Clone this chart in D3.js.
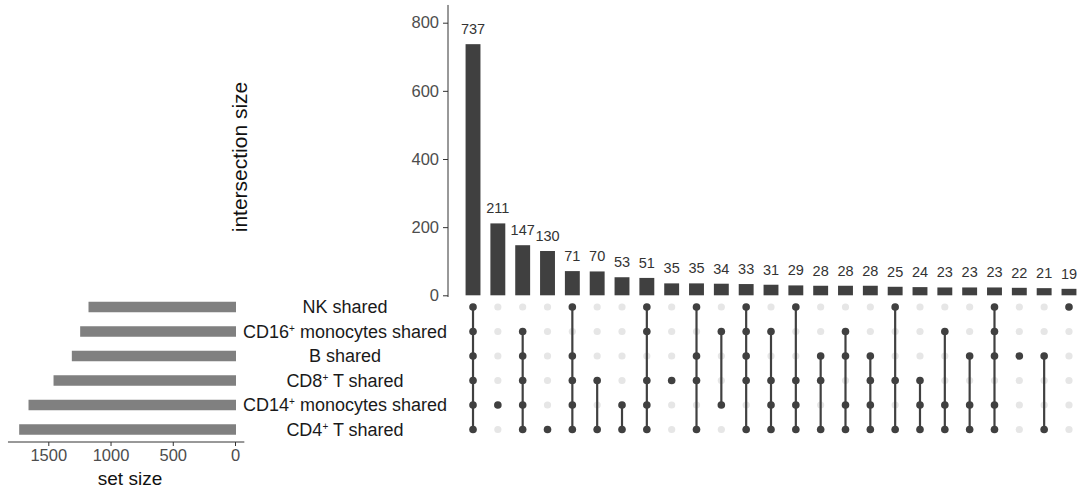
<!DOCTYPE html>
<html>
<head>
<meta charset="utf-8">
<script src="https://cdn.jsdelivr.net/npm/d3@7"></script>
<style>
  html, body { margin: 0; padding: 0; background: #fff; }
  svg { display: block; font-family: "Liberation Sans", Arial, Helvetica, sans-serif; }
</style>
</head>
<body>
<svg id="chart" width="1087" height="490"></svg>
<script>
// ---- data ----
const setNames = ["NK shared", "CD16+ monocytes shared", "B shared", "CD8+ T shared", "CD14+ monocytes shared", "CD4+ T shared"];
const setSizes = [1177, 1244, 1311, 1458, 1659, 1734];
const intersectionSizes = [737, 211, 147, 130, 71, 70, 53, 51, 35, 35, 34, 33, 31, 29, 28, 28, 28, 25, 24, 23, 23, 23, 22, 21, 19];
// membership: indices into setNames (0 = NK ... 5 = CD4+ T)
const memberships = [
  [0,1,2,3,4,5], [4], [1,2,3,4,5], [5], [0,2,3,4,5], [3,5], [4,5], [0,1,3,4,5],
  [3], [0,2,3,5], [1,4], [0,1,2,3,5], [1,3,4,5], [0,3,4,5], [2,3,5], [1,2,4,5],
  [2,3,4,5], [0,3,5], [3,4,5], [1,4,5], [2,4,5], [0,1,2,4,5], [2], [2,5], [0]
];
const topTicks = [0, 200, 400, 600, 800];
const setTicks = [0, 500, 1000, 1500];

// ---- styles ----
const dark = "#404040";
const setBarColor = "#808080";
const lightDot = "#e6e6e6";

const svg = d3.select("#chart");
const cols = intersectionSizes.map((d, i) => i);

const x = d3.scaleBand().domain(cols).range([460.6, 1081.4]).paddingInner(0.4).paddingOuter(0.2);
const yRow = d3.scalePoint().domain(setNames).range([307, 429.5]);
const yTop = d3.scaleLinear().domain([0, 800]).range([295.3, 22.7]);
const xSet = d3.scaleLinear().domain([0, 1500]).range([235, 48.3]);

// ---- top bar chart ----
const gTop = svg.append("g");
gTop.append("line")
  .attr("x1", 448).attr("x2", 448)
  .attr("y1", yTop(-5)).attr("y2", yTop(852))
  .attr("stroke", "#333").attr("stroke-width", 1);
const yAxis = d3.axisLeft(yTop).tickValues(topTicks).tickFormat(d3.format("d"))
  .tickSize(5).tickSizeOuter(0).tickPadding(4);
const gy = gTop.append("g").attr("transform", "translate(448,0)").call(yAxis);
gy.select(".domain").remove();
gy.selectAll(".tick line").attr("stroke", "#333");
gy.selectAll(".tick text").attr("fill", "#4d4d4d").style("font-size", "16.5px")
  .style("font-family", '"Liberation Sans", Arial, sans-serif');

gTop.selectAll("rect.bar").data(intersectionSizes).join("rect")
  .attr("class", "bar")
  .attr("x", (d, i) => x(i))
  .attr("width", x.bandwidth())
  .attr("y", d => yTop(d))
  .attr("height", d => yTop(0) - yTop(d))
  .attr("fill", dark);

gTop.selectAll("text.val").data(intersectionSizes).join("text")
  .attr("class", "val")
  .attr("x", (d, i) => x(i) + x.bandwidth() / 2)
  .attr("y", d => yTop(d) - 10)
  .attr("text-anchor", "middle")
  .attr("fill", "#333")
  .style("font-size", "14.5px")
  .text(d => d);

svg.append("text")
  .attr("transform", "translate(247,157) rotate(-90)")
  .attr("text-anchor", "middle")
  .attr("fill", "#111")
  .style("font-size", "21px")
  .text("intersection size");

// ---- matrix ----
const gM = svg.append("g");
const cx = i => x(i) + x.bandwidth() / 2;
cols.forEach(i => {
  setNames.forEach((s, j) => {
    gM.append("circle").attr("cx", cx(i)).attr("cy", yRow(s)).attr("r", 3.6).attr("fill", lightDot);
  });
});
gM.selectAll("line.conn").data(memberships.map((m, i) => ({ m, i })).filter(d => d.m.length > 1)).join("line")
  .attr("class", "conn")
  .attr("x1", d => cx(d.i)).attr("x2", d => cx(d.i))
  .attr("y1", d => yRow(setNames[d3.min(d.m)]))
  .attr("y2", d => yRow(setNames[d3.max(d.m)]))
  .attr("stroke", dark).attr("stroke-width", 2.2);
memberships.forEach((m, i) => {
  m.forEach(j => {
    gM.append("circle").attr("cx", cx(i)).attr("cy", yRow(setNames[j])).attr("r", 3.8).attr("fill", dark);
  });
});

// ---- set labels ----
const gL = svg.append("g");
setNames.forEach(name => {
  const t = gL.append("text")
    .attr("x", 345).attr("y", yRow(name) + 6)
    .attr("text-anchor", "middle").attr("fill", "#1a1a1a")
    .style("font-size", "18px");
  const parts = name.split("+");
  if (parts.length > 1) {
    t.append("tspan").text(parts[0]);
    t.append("tspan").attr("dy", -6).style("font-size", "10px").text("+");
    t.append("tspan").attr("dy", 6).text(parts[1]);
  } else {
    t.text(name);
  }
});

// ---- set size bars ----
const gS = svg.append("g");
const barH = 10.5;
gS.selectAll("rect.sbar").data(setSizes).join("rect")
  .attr("class", "sbar")
  .attr("x", d => xSet(d))
  .attr("width", d => xSet(0) - xSet(d) + 1)
  .attr("y", (d, i) => yRow(setNames[i]) - barH / 2)
  .attr("height", barH)
  .attr("fill", setBarColor);

svg.append("line")
  .attr("x1", xSet(1824)).attr("x2", xSet(-75))
  .attr("y1", 442).attr("y2", 442)
  .attr("stroke", "#333").attr("stroke-width", 1);
const xAxis = d3.axisBottom(xSet).tickValues(setTicks).tickFormat(d3.format("d"))
  .tickSize(4).tickSizeOuter(0).tickPadding(3);
const gx = svg.append("g").attr("transform", "translate(0,442)").call(xAxis);
gx.select(".domain").remove();
gx.selectAll(".tick line").attr("stroke", "#333");
gx.selectAll(".tick text").attr("fill", "#4d4d4d").style("font-size", "16.5px")
  .style("font-family", '"Liberation Sans", Arial, sans-serif');

svg.append("text")
  .attr("x", 130).attr("y", 485)
  .attr("text-anchor", "middle").attr("fill", "#111")
  .style("font-size", "19px")
  .text("set size");
</script>
</body>
</html>
